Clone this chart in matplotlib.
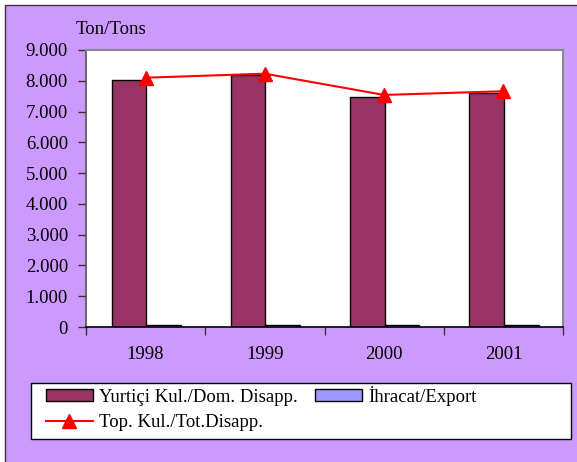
import matplotlib
matplotlib.use("Agg")
import matplotlib.pyplot as plt
import numpy as np
from matplotlib.patches import Rectangle
from matplotlib.ticker import FuncFormatter

plt.rcParams["font.family"] = ["Liberation Serif", "DejaVu Serif"]
plt.rcParams["font.size"] = 13.5

years = ["1998", "1999", "2000", "2001"]
domestic = [8040, 8180, 7480, 7600]
export = [60, 50, 60, 55]
total = [8100, 8230, 7540, 7660]
yticks = [0, 1000, 2000, 3000, 4000, 5000, 6000, 7000, 8000, 9000]

PURPLE = "#CC99FF"
DOM_COLOR = "#993366"
EXP_COLOR = "#9999FF"
W, H = 577, 462

fig = plt.figure(figsize=(W / 100, H / 100), dpi=100, facecolor="white")
# purple chart frame, cropped at right/bottom
fig.patches.append(Rectangle((5 / W, -0.1), 1.2, (H - 5) / H + 0.1,
                             transform=fig.transFigure, facecolor=PURPLE,
                             edgecolor="#333333", linewidth=1, zorder=-10))
# legend box
fig.patches.append(Rectangle((31 / W, (H - 439) / H), (571 - 31) / W, (439 - 383) / H,
                             transform=fig.transFigure, facecolor="white",
                             edgecolor="black", linewidth=1, zorder=-5))

ax = fig.add_axes([86 / W, (H - 327) / H, (563 - 86) / W, (327 - 50) / H])
ax.set_facecolor("white")

x = np.arange(len(years))
bw = 0.29
dom_bars = ax.bar(x - 0.14, domestic, width=bw, color=DOM_COLOR, edgecolor="black",
                  linewidth=1, zorder=2)
exp_bars = ax.bar(x + 0.15, export, width=bw, color=EXP_COLOR, edgecolor="black",
                  linewidth=1, zorder=2)
tot_line, = ax.plot(x, total, color="red", linewidth=1.5, marker="^", markersize=10,
                    zorder=3)

ax.set_xlim(-0.5, len(years) - 0.5)
ax.set_ylim(0, 9000)
ax.set_yticks(yticks)
ax.yaxis.set_major_formatter(FuncFormatter(lambda v, p: f"{int(v):,}".replace(",", ".")))
ax.tick_params(axis="y", direction="out", length=6, width=1, color="#333333", pad=7)

ax.set_xticks(np.arange(len(years) + 1) - 0.5)
ax.set_xticklabels([])
ax.set_xticks(x, minor=True)
ax.set_xticklabels(years, minor=True)
ax.tick_params(axis="x", which="major", direction="out", length=6, width=1, color="#333333")
ax.tick_params(axis="x", which="minor", length=0, pad=14)

for side in ["top", "right"]:
    ax.spines[side].set_color("#888888")
    ax.spines[side].set_linewidth(1.5)
ax.spines["left"].set_color("#555555")
ax.spines["bottom"].set_color("black")
ax.spines["left"].set_linewidth(1.2)
ax.spines["bottom"].set_linewidth(1.2)

fig.text(76 / W, 1 - 30 / H, "Ton/Tons", ha="left", va="center")

# column-major fill: col 1 = domestic, total; col 2 = export
leg = fig.legend([dom_bars, tot_line, exp_bars],
                 ["Yurtiçi Kul./Dom. Disapp.", "Top. Kul./Tot.Disapp.", "İhracat/Export"],
                 loc="upper left", ncol=2,
                 bbox_to_anchor=(46 / W, 1 - 386 / H),
                 frameon=False, handlelength=2.5, handleheight=0.6, handletextpad=0.35,
                 labelspacing=0.45, borderpad=0.0, borderaxespad=0.0,
                 columnspacing=0.9)

fig.savefig("out.png", dpi=100, facecolor="white")
